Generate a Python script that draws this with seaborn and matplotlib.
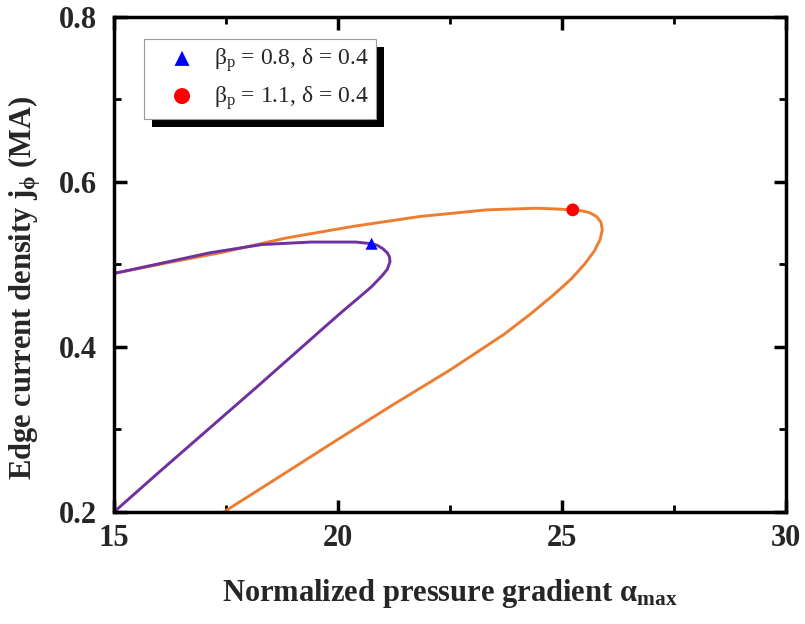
import matplotlib
matplotlib.use("Agg")
import matplotlib.pyplot as plt
import seaborn as sns
import pandas as pd
from matplotlib.patches import Rectangle
from matplotlib.ticker import MultipleLocator

# ---- data ----
purple_x = [15.0, 16.0, 17.1, 18.2, 19.2, 19.7, 20.1, 20.45, 20.75, 20.98, 21.1, 21.16, 21.15,
            21.1, 21.0, 20.88, 20.75, 20.4, 20.0, 19.4, 18.3, 17.14, 16.03, 15.0]
purple_y = [0.200, 0.248, 0.300, 0.352, 0.400, 0.424, 0.443, 0.459, 0.473, 0.486, 0.494, 0.503,
            0.509, 0.514, 0.519, 0.523, 0.525, 0.527, 0.527, 0.527, 0.524, 0.514, 0.501, 0.489]

orange_x = [17.45, 18.7, 19.97, 21.2, 22.5, 23.7, 24.3, 24.81, 25.2, 25.5, 25.72, 25.85, 25.9,
            25.87, 25.77, 25.6, 25.42, 25.24, 24.9, 24.43, 23.32, 21.83, 20.34, 18.85, 17.37,
            16.2, 15.0]
orange_y = [0.200, 0.243, 0.287, 0.329, 0.372, 0.415, 0.440, 0.463, 0.482, 0.500, 0.516, 0.530,
            0.542, 0.551, 0.558, 0.563, 0.565, 0.566, 0.567, 0.568, 0.566, 0.558, 0.546, 0.532,
            0.514, 0.502, 0.489]

marker_x = [20.75, 25.24]
marker_y = [0.525, 0.566]
marker_labels = [r"β$_\mathrm{p}$ = 0.8, δ = 0.4", r"β$_\mathrm{p}$ = 1.1, δ = 0.4"]

x_ticks = [15, 20, 25, 30]
y_ticks = [0.2, 0.4, 0.6, 0.8]

# ---- style ----
sns.set_style("ticks")
plt.rcParams["font.family"] = ["Liberation Serif", "DejaVu Serif"]
plt.rcParams["mathtext.fontset"] = "custom"
plt.rcParams["mathtext.rm"] = "Liberation Serif"
plt.rcParams["mathtext.it"] = "Liberation Serif:italic"
plt.rcParams["mathtext.bf"] = "Liberation Serif:bold"

fig = plt.figure(figsize=(8.05, 6.24), dpi=100)
ax = fig.add_axes([114 / 805, 1 - 512 / 624, 672 / 805, 495.3 / 624])

purple_df = pd.DataFrame({"x": purple_x, "y": purple_y})
orange_df = pd.DataFrame({"x": orange_x, "y": orange_y})

sns.lineplot(data=orange_df, x="x", y="y", sort=False, estimator=None, color="#ED7D31",
             linewidth=2.1, ax=ax, legend=False)
sns.lineplot(data=purple_df, x="x", y="y", sort=False, estimator=None, color="#7030A0",
             linewidth=2.1, ax=ax, legend=False)
for ln in ax.lines:
    ln.set_solid_joinstyle("round")

tri = ax.scatter([marker_x[0]], [marker_y[0]], marker="^", s=75, color="#0000FF",
                 edgecolor="none", zorder=5, label=marker_labels[0])
cir = ax.scatter([marker_x[1]], [marker_y[1]], marker="o", s=85, color="#FF0000",
                 edgecolor="none", zorder=5, label=marker_labels[1])

ax.set_xlim(15, 30)
ax.set_ylim(0.2, 0.8)
ax.set_xticks(x_ticks)
ax.set_yticks(y_ticks)
ax.set_xticklabels([str(t) for t in x_ticks])
ax.set_yticklabels([f"{t:.1f}" for t in y_ticks])
ax.xaxis.set_minor_locator(MultipleLocator(2.5))
ax.yaxis.set_minor_locator(MultipleLocator(0.1))

for s in ax.spines.values():
    s.set_linewidth(2.5)
    s.set_color("black")
ax.tick_params(which="major", direction="in", length=9, width=2.5, top=True, right=True,
               labelsize=22, pad=9, color="black")
ax.tick_params(which="minor", direction="in", length=5, width=2.0, top=True, right=True,
               color="black")
ax.tick_params(axis="y", which="major", pad=12)
for lab in ax.get_xticklabels() + ax.get_yticklabels():
    lab.set_fontweight("bold")

ax.set_xlabel(r"Normalized pressure gradient α$_\mathbf{max}$", fontsize=22,
              fontweight="bold", labelpad=17)
ax.set_ylabel(r"Edge current density j$_\mathbf{\phi}$ (MA)", fontsize=22,
              fontweight="bold")
ax.yaxis.set_label_coords(-0.105, 0.452)

leg = ax.legend(handles=[tri, cir], loc="upper left", bbox_to_anchor=(0.045, 0.955),
                fontsize=17, frameon=True, fancybox=False, edgecolor="#999999",
                framealpha=1, handletextpad=0.05, borderpad=0.3, labelspacing=0.42,
                handlelength=2.6, borderaxespad=0, markerscale=1.25)
leg.get_frame().set_linewidth(0.8)
leg.set_zorder(10)

fig.canvas.draw()
bb = leg.get_window_extent()
W, H = fig.bbox.width, fig.bbox.height
shadow = Rectangle(((bb.x0 + 8) / W, (bb.y0 - 8) / H), bb.width / W, bb.height / H,
                   transform=fig.transFigure, facecolor="black", edgecolor="none",
                   zorder=9, clip_on=False)
ax.add_patch(shadow)

fig.savefig("out.png", dpi=100)
